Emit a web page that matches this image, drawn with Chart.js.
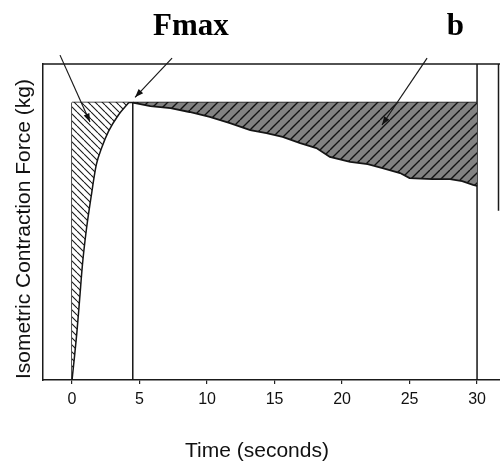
<!DOCTYPE html>
<html>
<head>
<meta charset="utf-8">
<script src="https://cdn.jsdelivr.net/npm/chart.js@4.4.1/dist/chart.umd.min.js"></script>
<style>
  html, body { margin: 0; padding: 0; background: #fff; }
  #wrap { width: 500px; height: 462px; }
</style>
</head>
<body>
<div id="wrap"><canvas id="forceChart" width="500" height="462"></canvas></div>
<script>
// values (time in s, force in % of Fmax)
const riseTime  = [0, 0.12, 0.37, 0.57, 0.77, 1.05, 1.4, 1.8, 2.19, 2.7, 3.45, 4.2];
const riseForce = [0, 5.5, 17.7, 29.5, 41.5, 53.7, 65.6, 77.6, 83.6, 89.6, 95.6, 100];

const decayTime  = [4.5, 5.8, 7.3, 8.7, 10.2, 11.7, 13.2, 14.4, 15.6, 16.9, 18.1, 19.1, 20.6, 21.9, 23.0, 24.3, 25.0, 26.7, 28.0, 28.9, 29.7, 30];
const decayForce = [100, 98.7, 98.0, 96.6, 94.8, 92.6, 90.1, 89.0, 87.6, 85.4, 83.6, 80.4, 78.6, 77.8, 76.4, 74.6, 72.8, 72.4, 72.4, 71.7, 70.3, 70];

const fmax = 100;
const peakTime = 4.5;
const endTime = 30;
const xTicks = [0, 5, 10, 15, 20, 25, 30];
const yMax = 113.9;

const ctx = document.getElementById('forceChart').getContext('2d');

function hatch(bg, fg, size, lw, slash) {
    const c = document.createElement('canvas');
    c.width = size; c.height = size;
    const g = c.getContext('2d');
    g.fillStyle = bg;
    g.fillRect(0, 0, size, size);
    g.strokeStyle = fg;
    g.lineWidth = lw;
    g.beginPath();
    for (let k = -1; k <= 1; k++) {
        if (slash) {
            g.moveTo(k * size, size); g.lineTo(k * size + size, 0);
        } else {
            g.moveTo(k * size, 0); g.lineTo(k * size + size, size);
        }
    }
    g.stroke();
    return ctx.createPattern(c, 'repeat');
}

const lightHatch = hatch('#ffffff', '#1a1a1a', 7, 1.1, false);
const darkHatch = hatch('#828282', '#121212', 10, 1.4, true);

const pts = (xs, ys) => xs.map((x, i) => ({ x: x, y: ys[i] }));

const annotate = {
    id: 'annotate',
    afterDraw(chart) {
        const c = chart.ctx;
        const xs = chart.scales.x, ys = chart.scales.y;
        const area = chart.chartArea;
        const px = v => xs.getPixelForValue(v);
        const py = v => ys.getPixelForValue(v);

        c.save();
        c.strokeStyle = '#1a1a1a';
        c.lineWidth = 1.5;
        // frame: top edge and right edge
        c.beginPath();
        c.moveTo(area.left - 1, area.top);
        c.lineTo(area.right, area.top);
        c.moveTo(area.right - 1.5, area.top);
        c.lineTo(area.right - 1.5, py(61));
        c.stroke();

        // arrows
        function arrow(x1, y1, x2, y2) {
            const a = px(x1), b = py(y1), cX = px(x2), d = py(y2);
            c.lineWidth = 1.2;
            c.beginPath();
            c.moveTo(a, b);
            c.lineTo(cX, d);
            c.stroke();
            const ang = Math.atan2(d - b, cX - a);
            const L = 9, W = 0.35;
            c.beginPath();
            c.moveTo(cX, d);
            c.lineTo(cX - L * Math.cos(ang - W), d - L * Math.sin(ang - W));
            c.lineTo(cX - L * Math.cos(ang + W), d - L * Math.sin(ang + W));
            c.closePath();
            c.fillStyle = '#111';
            c.fill();
        }
        arrow(-0.89, 117.1, 1.33, 93.0);
        arrow(7.41, 116.0, 4.67, 101.9);
        arrow(26.3, 116.0, 22.96, 91.9);

        // labels
        c.fillStyle = '#000';
        c.textAlign = 'center';
        c.textBaseline = 'alphabetic';
        c.font = 'bold 31px "Liberation Serif", "Times New Roman", serif';
        c.fillText('Fmax', px(8.8), 35);
        c.fillText('b', px(28.4), 35);

        // axis titles
        c.fillStyle = '#111';
        c.font = '21px "Liberation Sans", Arial, sans-serif';
        c.textBaseline = 'middle';
        c.fillText('Time (seconds)', px(13.7), 451);
        c.translate(24, py(54.4));
        c.rotate(-Math.PI / 2);
        c.fillText('Isometric Contraction Force (kg)', 0, 0);
        c.restore();
    }
};

const line = (data, extra) => Object.assign({
    data: data,
    borderColor: '#151515',
    borderWidth: 1.5,
    pointRadius: 0,
    tension: 0,
    fill: false
}, extra || {});

new Chart(ctx, {
    type: 'line',
    data: {
        datasets: [
            line(pts(riseTime, riseForce), { fill: { value: fmax }, backgroundColor: lightHatch, cubicInterpolationMode: 'monotone' }),
            line(pts(decayTime, decayForce), { fill: { value: fmax }, backgroundColor: darkHatch, borderWidth: 1.8 }),
            line([{ x: 0, y: fmax }, { x: endTime, y: fmax }]),
            line([{ x: 0, y: 0 }, { x: 0, y: fmax }]),
            line([{ x: peakTime, y: 0 }, { x: peakTime, y: fmax }]),
            line([{ x: endTime, y: 0 }, { x: endTime, y: yMax }])
        ]
    },
    options: {
        responsive: false,
        animation: false,
        layout: { padding: { top: 64, right: 0, bottom: 0, left: 0 } },
        plugins: {
            legend: { display: false },
            tooltip: { enabled: false }
        },
        scales: {
            x: {
                type: 'linear',
                min: -2.15,
                max: 31.7,
                afterBuildTicks: s => { s.ticks = xTicks.map(v => ({ value: v })); },
                afterFit: s => { s.height = 82; },
                ticks: {
                    color: '#111',
                    padding: 6,
                    maxRotation: 0,
                    font: { size: 16, family: '"Liberation Sans", Arial, sans-serif' }
                },
                grid: { drawOnChartArea: false, drawTicks: true, tickLength: 4, color: '#222', lineWidth: 1.2 },
                border: { display: true, color: '#1a1a1a', width: 1.5 }
            },
            y: {
                min: 0,
                max: yMax,
                afterFit: s => { s.width = 43; },
                ticks: { display: false },
                grid: { display: false },
                border: { display: true, color: '#1a1a1a', width: 1.5 }
            }
        }
    },
    plugins: [annotate]
});
</script>
</body>
</html>
